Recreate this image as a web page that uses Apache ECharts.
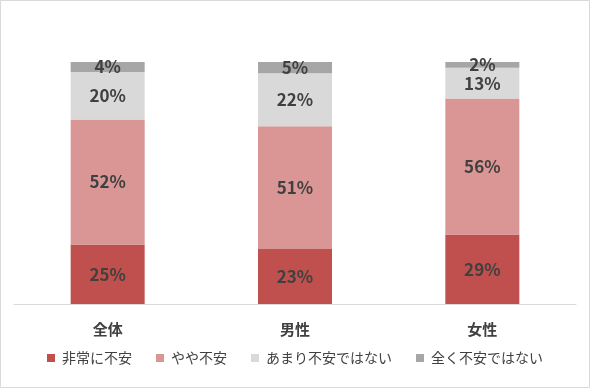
<!DOCTYPE html>
<html>
<head>
<meta charset="utf-8">
<script src="https://cdn.jsdelivr.net/npm/echarts@6/dist/echarts.min.js"></script>
<style>
html,body{margin:0;padding:0;background:#fff;}
#c{width:590px;height:388px;}
</style>
</head>
<body>
<div id="c"></div>
<script>
const categories = ['全体', '男性', '女性'];
const seriesNames = ['非常に不安', 'やや不安', 'あまり不安ではない', '全く不安ではない'];
const veryAnxious = [24.6, 22.7, 28.7];
const somewhatAnxious = [51.6, 50.8, 56.2];
const notVery = [19.7, 21.9, 12.7];
const notAtAll = [4.1, 4.6, 2.4];
const colors = ['#C0504D', '#DA9694', '#D9D9D9', '#A6A6A6'];

const font = '"Noto Sans CJK JP", "Noto Sans", sans-serif';
const dataSets = [veryAnxious, somewhatAnxious, notVery, notAtAll];

const chart = echarts.init(document.getElementById('c'));
chart.setOption({
  animation: false,
  backgroundColor: '#fff',
  graphic: [{
    type: 'rect',
    shape: {x: 0.5, y: 0.5, width: 589, height: 387},
    style: {fill: 'none', stroke: '#D9D9D9', lineWidth: 1},
    silent: true
  }],
  grid: {left: 14, right: 14, top: 62, bottom: 84, containLabel: false},
  legend: {
    bottom: 18,
    left: 'center',
    itemWidth: 8,
    itemHeight: 8,
    itemGap: 24,
    icon: 'rect',
    textStyle: {fontFamily: font, fontSize: 14, color: '#404040', padding: [0, 0, 0, 2]},
    data: seriesNames
  },
  xAxis: {
    type: 'category',
    data: categories,
    axisLine: {lineStyle: {color: '#D9D9D9', width: 1}},
    axisTick: {show: false},
    axisLabel: {fontFamily: font, fontSize: 15, fontWeight: 'bold', color: '#404040', margin: 18}
  },
  yAxis: {
    type: 'value',
    min: 0,
    max: 100,
    show: false,
    splitLine: {show: false}
  },
  series: seriesNames.map((name, i) => ({
    name: name,
    type: 'bar',
    stack: 'total',
    barWidth: 74,
    data: dataSets[i],
    itemStyle: {color: colors[i]},
    label: {
      show: true,
      position: 'inside',
      formatter: p => Math.round(p.value) + '%',
      fontFamily: font,
      fontSize: 17,
      fontWeight: 'bold',
      color: '#404040'
    }
  }))
});
</script>
</body>
</html>
